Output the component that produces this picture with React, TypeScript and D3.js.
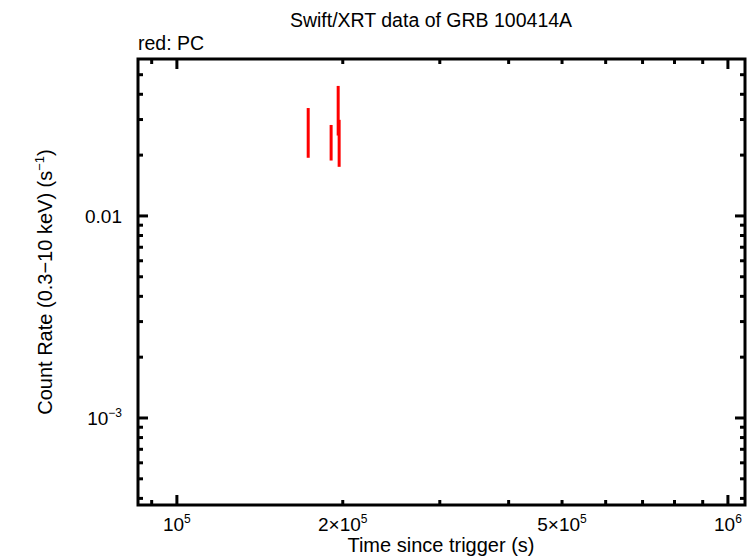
import React from "react";
import * as d3 from "d3";

const times = [1.731e5, 1.905e5, 1.962e5, 1.970e5];
const timeErrLo = [600, 500, 300, 300];
const timeErrHi = [600, 500, 300, 300];
const rates = [0.0269, 0.0235, 0.0341, 0.0235];
const rateLo = [0.0194, 0.0188, 0.0250, 0.0175];
const rateHi = [0.0342, 0.0282, 0.0440, 0.0299];

const xTickVals = [1e5, 2e5, 5e5, 1e6];
const xTickLabels: [string, string, string][] = [["", "10", "5"], ["2×", "10", "5"], ["5×", "10", "5"], ["", "10", "6"]];
const yTickVals = [0.01, 0.001];

const W = 753, H = 558;
const L = 138, R = 745, T = 59, B = 505;
const FONT = "'Liberation Sans', Arial, sans-serif";

export default function App() {
  const x = d3.scaleLog().domain([85000, 1.074e6]).range([L, R]);
  const y = d3.scaleLog().domain([3.71e-4, 0.0598]).range([B, T]);

  const xMinor: number[] = [];
  for (let d = 1e4; d <= 1e6; d *= 10) for (let k = 1; k <= 9; k++) {
    const v = d * k;
    if (v >= 85000 && v <= 1.074e6) xMinor.push(v);
  }
  const yMinor: number[] = [];
  for (let d = 1e-4; d <= 0.01; d *= 10) for (let k = 1; k <= 9; k++) {
    const v = d * k;
    if (v >= 3.71e-4 && v <= 0.0598) yMinor.push(v);
  }
  const isMajor = (v: number) => Math.abs(Math.log10(v) - Math.round(Math.log10(v))) < 1e-6;

  return (
    <svg width={W} height={H} style={{ position: "absolute", left: 0, top: 0 }}>
      <rect width={W} height={H} fill="white" />
      <text x={431} y={27} textAnchor="middle" fontFamily={FONT} fontSize={19.5}>Swift/XRT data of GRB 100414A</text>
      <text x={138} y={50} fontFamily={FONT} fontSize={19.5}>red: PC</text>

      {xMinor.map((v, i) => {
        const len = isMajor(v) ? 10 : 5;
        const px = x(v);
        return (
          <g key={"xm" + i}>
            <line x1={px} x2={px} y1={B} y2={B - len} stroke="black" strokeWidth={3} />
            <line x1={px} x2={px} y1={T} y2={T + len} stroke="black" strokeWidth={3} />
          </g>
        );
      })}
      {yMinor.map((v, i) => {
        const len = isMajor(v) ? 10 : 5;
        const py = y(v);
        return (
          <g key={"ym" + i}>
            <line x1={L} x2={L + len} y1={py} y2={py} stroke="black" strokeWidth={3} />
            <line x1={R} x2={R - len} y1={py} y2={py} stroke="black" strokeWidth={3} />
          </g>
        );
      })}
      <rect x={L} y={T} width={R - L} height={B - T} fill="none" stroke="black" strokeWidth={3} />

      {xTickVals.map((v, i) => {
        const [pre, base, exp] = xTickLabels[i];
        return (
          <text key={"xl" + i} x={x(v)} y={531} textAnchor="middle" fontFamily={FONT} fontSize={19}>
            {pre}{base}<tspan dy={-8} fontSize={12}>{exp}</tspan>
          </text>
        );
      })}
      <text x={122} y={y(yTickVals[0]) + 7} textAnchor="end" fontFamily={FONT} fontSize={19}>0.01</text>
      <text x={122} y={y(yTickVals[1]) + 7} textAnchor="end" fontFamily={FONT} fontSize={19}>
        10<tspan dy={-8} fontSize={12}>−3</tspan>
      </text>

      <text x={441} y={552} textAnchor="middle" fontFamily={FONT} fontSize={20}>Time since trigger (s)</text>
      <text transform={`translate(52,282) rotate(-90)`} textAnchor="middle" fontFamily={FONT} fontSize={20}>
        Count Rate (0.3−10 keV) (s<tspan dy={-8} fontSize={13}>−1</tspan><tspan dy={8}>)</tspan>
      </text>

      {times.map((t, i) => (
        <g key={"d" + i}>
          <line x1={x(t)} x2={x(t)} y1={y(rateLo[i])} y2={y(rateHi[i])} stroke="red" strokeWidth={3} />
          <line x1={x(t - timeErrLo[i])} x2={x(t + timeErrHi[i])} y1={y(rates[i])} y2={y(rates[i])} stroke="red" strokeWidth={2} />
        </g>
      ))}
    </svg>
  );
}
